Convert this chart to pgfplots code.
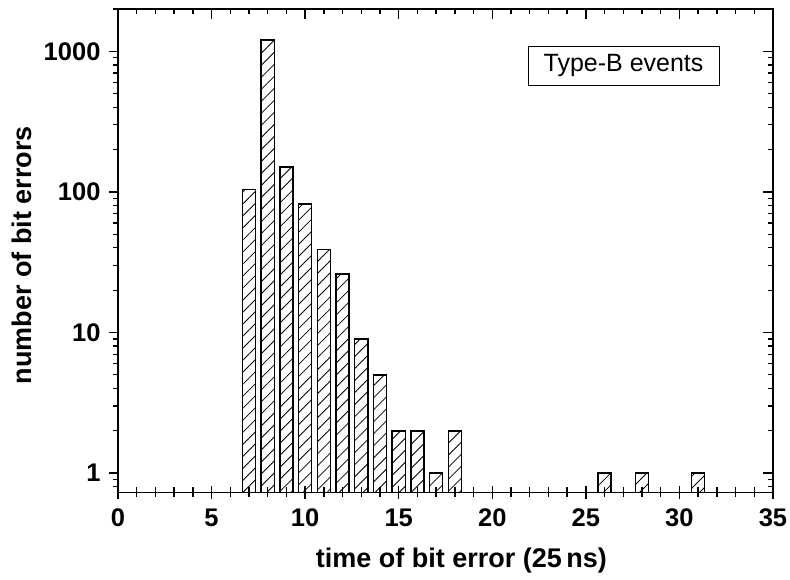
\documentclass[border=0pt]{standalone}
\usepackage{fontspec}
\setmainfont{Liberation Sans}
\usepackage{pgfplots}
\pgfplotsset{compat=1.18}
\usetikzlibrary{patterns.meta}

\pgfplotsset{mybase/.style={
  scale only axis, width=655pt, height=483.3pt,
  xmin=0, xmax=35, ymin=0.73, ymax=2000,
  axis line style={line width=1.6pt},
  tick style={line width=1.3pt, black},
  at={(0,0)}, anchor=south west,
}}

\begin{document}
\begin{tikzpicture}
\useasboundingbox (-118pt,-86.7pt) rectangle (672pt,492.3pt);
% main axis: bars, labels, left ticks
\begin{semilogyaxis}[mybase,
  log origin=infty, clip=false,
  xtick={0,5,...,35},
  xticklabels={0,5,10,15,20,25,30,35},
  xtick style={draw=none},
  ytick={1,10,100,1000},
  yticklabels={1,10,100,1000},
  minor ytick={0.8,0.9,2,3,4,5,6,7,8,9,20,30,40,50,60,70,80,90,200,300,400,500,600,700,800,900,2000},
  tick align=outside,
  xtick pos=left, ytick pos=left,
  major tick length=9pt, minor tick length=5pt,
  ticklabel style={font=\fontsize{25.5}{30}\selectfont\bfseries},
  xticklabel style={anchor=base, yshift=-25pt},
  yticklabel style={anchor=east, xshift=-5pt},
]
\addplot[ybar, bar width=0.7, draw=black, line width=1.5pt,
  pattern={Lines[angle=45,distance=8.5pt,line width=0.8pt]}, pattern color=black]
  table {
x y
7 104
8 1205
9 150
10 82
11 39
12 26
13 9
14 5
15 2
16 2
17 1
18 2
26 1
28 1
31 1
};
\node[draw, line width=1pt, minimum width=191pt, minimum height=39pt, inner sep=0pt,
  font=\fontsize{25}{30}\selectfont] at (rel axis cs:0.7718,0.883) {Type-B events};
\node[anchor=base, font=\fontsize{27}{32}\selectfont\bfseries] at (rel axis cs:0.5244,-0.155) {time of bit error (25\,ns)};
\node[anchor=base, rotate=90, font=\fontsize{27}{32}\selectfont\bfseries] at (rel axis cs:-0.1313,0.491) {number of bit errors};
\end{semilogyaxis}
% bottom crossing ticks
\begin{semilogyaxis}[mybase,
  xtick={0,5,...,35}, minor xtick={1,...,34},
  xticklabels={}, ytick=\empty, yminorticks=false,
  tick align=center, xtick pos=left,
  major tick length=13pt, minor tick length=10pt,
]
\end{semilogyaxis}
% top and right inner ticks
\begin{semilogyaxis}[mybase,
  xtick={0,5,...,35}, minor xtick={1,...,34},
  xticklabels={}, yticklabels={},
  ytick={1,10,100,1000},
  minor ytick={0.8,0.9,2,3,4,5,6,7,8,9,20,30,40,50,60,70,80,90,200,300,400,500,600,700,800,900,2000},
  tick align=inside, xtick pos=right, ytick pos=right,
  major tick length=10pt, minor tick length=5pt,
]
\end{semilogyaxis}
\end{tikzpicture}
\end{document}
